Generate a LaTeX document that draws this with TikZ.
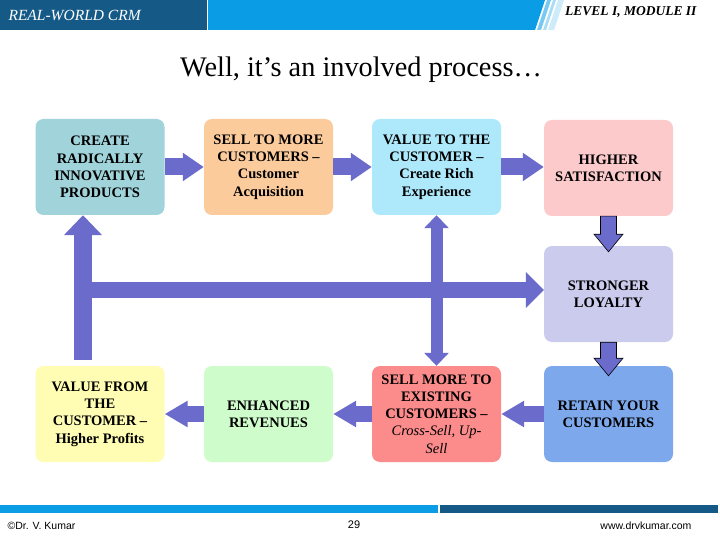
\documentclass[tikz,border=0pt]{standalone}
\usepackage{fontspec}
\setmainfont{Liberation Serif}
\setsansfont{Liberation Sans}
\usetikzlibrary{arrows.meta,calc}

\definecolor{barDark}{RGB}{21,90,135}
\definecolor{barLight}{RGB}{10,157,230}
\definecolor{flowBlue}{RGB}{107,107,203}
\definecolor{fillCreate}{RGB}{160,211,218}
\definecolor{fillAcquire}{RGB}{251,203,156}
\definecolor{fillValueTo}{RGB}{174,232,251}
\definecolor{fillSatisfy}{RGB}{252,202,203}
\definecolor{fillLoyal}{RGB}{203,203,238}
\definecolor{fillRetain}{RGB}{125,168,236}
\definecolor{fillUpsell}{RGB}{252,139,139}
\definecolor{fillRevenue}{RGB}{207,252,203}
\definecolor{fillValueFrom}{RGB}{254,253,179}

\begin{document}
\begin{tikzpicture}[x=1pt, y=-1pt,
    box/.style={rounded corners=8pt, minimum width=129pt, minimum height=96pt,
        align=center, inner sep=2pt, font=\fontsize{14.5}{17.2}\selectfont\bfseries},
    flow/.style={draw=flowBlue, line width=17pt, -{Triangle[length=21pt, width=27pt]}},
    drop/.style={fill=flowBlue, draw=black, line width=0.6pt, line join=miter}]
    \useasboundingbox (0,0) rectangle (720,540);

    % header and footer bars
    \fill[barDark] (0,0) rectangle (207,30);
    \fill[barLight] (208,0) -- (545,0) -- (535,30) -- (208,30) -- cycle;
    \fill[barLight!55] (547,0) -- (551,0) -- (541,30) -- (537,30) -- cycle;
    \fill[barLight!35] (553,0) -- (556,0) -- (546,30) -- (543,30) -- cycle;
    \fill[barLight!20] (558,0) -- (564,0) -- (554,30) -- (548,30) -- cycle;
    \fill[barLight] (0,505) rectangle (438,513);
    \fill[barDark] (440,505) rectangle (718,513);

    \node[anchor=west, text=white, font=\fontsize{15.5}{17}\selectfont\itshape] (course) at (5,15) {REAL-WORLD CRM};
    \node[anchor=east, font=\fontsize{13.5}{15}\selectfont\bfseries\itshape] (module) at (700,12) {LEVEL I, MODULE II};
    \node (title) at (361,70) {\fontsize{28.3}{32}\selectfont Well, it’s an involved process…};

    \node[anchor=west, font=\sffamily\fontsize{10.5}{12}\selectfont] (author) at (4,526) {©Dr. V. Kumar};
    \node[font=\sffamily\fontsize{11}{12}\selectfont] (page) at (354,525) {29};
    \node[anchor=east, font=\sffamily\fontsize{10.5}{12}\selectfont] (site) at (695,526) {www.drvkumar.com};

    % process boxes
    \node[box, fill=fillCreate] (create) at (100,167) {CREATE\\RADICALLY\\INNOVATIVE\\PRODUCTS};
    \node[box, fill=fillAcquire] (acquire) at (268.5,167) {SELL TO MORE\\CUSTOMERS –\\Customer\\Acquisition};
    \node[box, fill=fillValueTo] (valueto) at (436.5,167) {VALUE TO THE\\CUSTOMER –\\Create Rich\\Experience};
    \node[box, fill=fillSatisfy] (satisfy) at (608.5,168) {HIGHER\\SATISFACTION};
    \node[box, fill=fillLoyal] (loyal) at (608.5,294) {STRONGER\\LOYALTY};
    \node[box, fill=fillRetain] (retain) at (608.5,414) {RETAIN YOUR\\CUSTOMERS};
    \node[box, fill=fillUpsell] (upsell) at (436.5,414) {SELL MORE TO\\EXISTING\\CUSTOMERS –\\\textit{\mdseries Cross-Sell, Up-}\\\textit{\mdseries Sell}};
    \node[box, fill=fillRevenue] (revenue) at (268.5,414) {ENHANCED\\REVENUES};
    \node[box, fill=fillValueFrom] (valuefrom) at (100,414) {VALUE FROM\\THE\\CUSTOMER –\\Higher Profits};

    % top row
    \draw[flow] (create.east) -- (acquire.west);
    \draw[flow] (acquire.east) -- (valueto.west);
    \draw[flow] (valueto.east) -- (satisfy.west |- valueto.east);

    % bottom row
    \draw[flow, line width=16pt, -{Triangle[length=23pt, width=25pt]}] (retain.west) -- (upsell.east);
    \draw[flow, line width=16pt, -{Triangle[length=23pt, width=25pt]}] (upsell.west) -- (revenue.east);
    \draw[flow, line width=16pt, -{Triangle[length=23pt, width=25pt]}] (revenue.west) -- (valuefrom.east);

    % feedback loop
    \coordinate (fb) at (83,360);
    \coordinate (fj) at (74,290);
    \draw[flow, line width=18pt, -{Triangle[length=20pt, width=37pt]}] (fb) -- (fb |- create.south);
    \draw[flow, line width=16pt, -{Triangle[length=18pt, width=35pt]}] (fj) -- (fj -| loyal.west);
    \draw[flow, line width=12pt, {Triangle[length=13pt, width=24pt]}-{Triangle[length=13pt, width=24pt]}]
        (valueto.south) -- (upsell.north);

    % outlined drops on the right
    \draw[drop] ($(satisfy.south)+(-8,0)$) -- ++(0,18) -- ++(-6.5,0) -- ($(loyal.north)+(0,6)$)
        -- ($(satisfy.south)+(14.5,18)$) -- ++(-6.5,0) -- ($(satisfy.south)+(8,0)$) -- cycle;
    \draw[drop] ($(loyal.south)+(-8,0)$) -- ++(0,16) -- ++(-6.5,0) -- ($(retain.north)+(0,10)$)
        -- ($(loyal.south)+(14.5,16)$) -- ++(-6.5,0) -- ($(loyal.south)+(8,0)$) -- cycle;
\end{tikzpicture}
\end{document}
